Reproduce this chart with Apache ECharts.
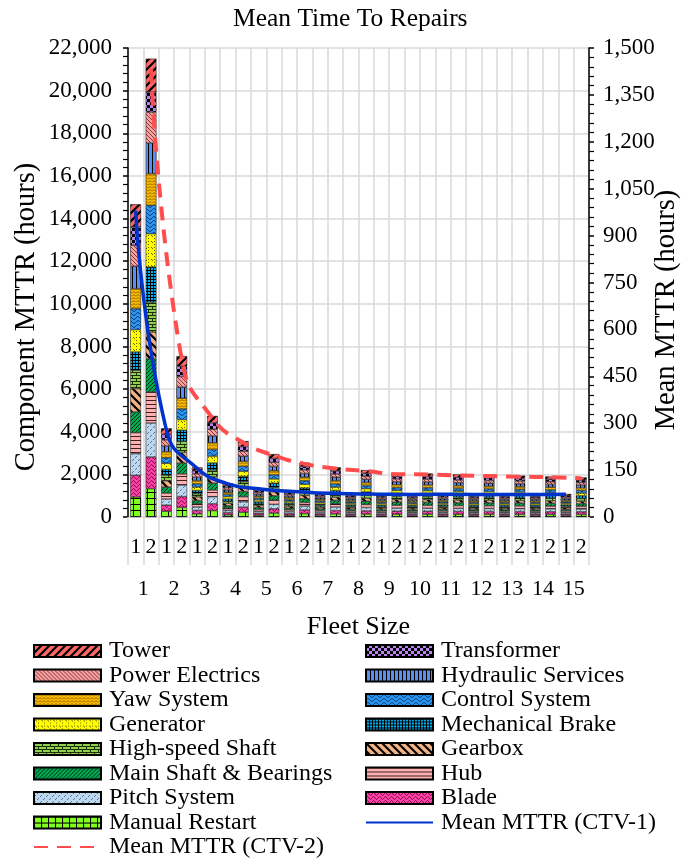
<!DOCTYPE html>
<html>
<head>
<meta charset="utf-8">
<script src="https://cdn.jsdelivr.net/npm/echarts@6/dist/echarts.min.js"></script>
<style>
html,body{margin:0;padding:0;background:#fff;}
#chart{width:691px;height:858px;}
</style>
</head>
<body>
<div id="chart"></div>
<script>
// ---------- DATA ----------
const fleetSizes = ['1','2','3','4','5','6','7','8','9','10','11','12','13','14','15'];
const ctvLabels = ['1','2'];
const leftTicks = { min: 0, max: 22000, interval: 2000 };
const rightTicks = { min: 0, max: 1500, interval: 150 };

// bar order per fleet size: [CTV-1, CTV-2]
const manualRestart = [938,1329,270,450,150,300,100,225,85,185,78,160,72,146,68,138,66,130,65,128,70,126,66,124,65,122,66,120,68,117];
const blade         = [1017,1485,285,510,160,320,110,240,92,200,85,172,78,158,74,150,72,140,71,139,73,136,70,134,71,132,71,129,74,127];
const pitchSystem   = [1017,1595,290,540,160,330,110,250,92,210,85,180,78,165,74,156,72,146,71,145,74,142,71,140,70,138,71,135,74,132];
const hub           = [985,1454,275,520,155,315,105,235,88,195,82,168,76,153,72,145,70,136,69,135,71,132,69,130,69,128,68,126,72,123];
const mainShaft     = [970,1564,280,510,150,325,100,245,86,205,80,176,74,160,70,152,68,142,67,141,72,138,68,136,68,134,68,131,70,128];
const gearbox       = [1094,1251,300,500,165,300,115,225,98,185,88,160,82,146,78,138,76,130,75,129,76,126,74,124,75,122,75,120,78,117];
const highSpeed     = [860,1407,265,520,150,315,100,235,84,195,76,168,70,153,66,145,64,136,64,135,67,132,64,130,64,128,64,126,66,123];
const mechBrake     = [860,1642,270,520,155,330,105,250,88,210,80,180,74,165,70,156,68,146,67,145,70,142,67,140,67,138,67,135,70,132];
const generator     = [1048,1564,285,500,160,320,110,240,92,200,85,172,78,158,74,150,72,140,71,139,73,136,71,134,71,132,71,129,74,127];
const controlSystem = [985,1329,260,500,150,310,100,230,86,190,80,165,74,150,70,142,68,133,68,132,71,129,68,127,68,125,68,123,70,120];
const yawSystem     = [938,1485,280,500,155,315,105,235,88,195,82,168,76,153,72,145,70,136,69,135,72,132,69,130,69,128,69,126,72,123];
const hydraulic     = [1048,1438,275,520,160,320,110,240,92,200,85,172,78,158,74,150,72,140,71,139,73,136,71,134,71,132,71,129,74,127];
const powerElec     = [985,1454,285,500,155,315,105,235,88,195,82,168,76,153,72,145,70,136,69,135,72,132,69,130,69,128,69,126,72,123];
const transformer   = [860,938,260,480,145,300,95,220,82,180,75,156,70,142,66,134,64,126,64,125,66,122,64,120,64,118,63,116,66,114];
const tower         = [1063,1564,280,480,160,325,110,255,104,205,92,185,84,170,80,154,78,143,79,138,80,139,79,137,79,135,79,129,80,127];

const meanCTV1 = [980,278,156,106,90,82,77,74,73,72,73,72,72,72,73];
const meanCTV2 = [1433,503,316,238,197,170,155,147,137,136,133,131,129,127,124];

// ---------- PATTERNS ----------
function pat(w, h, bg, draw) {
  const c = document.createElement('canvas');
  c.width = w; c.height = h;
  const g = c.getContext('2d');
  g.fillStyle = bg; g.fillRect(0, 0, w, h);
  g.fillStyle = '#000'; g.strokeStyle = '#000';
  draw(g, w, h);
  return { image: c, repeat: 'repeat' };
}
function slash(g, w, lw, col) { // '/'
  g.strokeStyle = col; g.lineWidth = lw; g.beginPath();
  g.moveTo(0, w); g.lineTo(w, 0);
  g.moveTo(-w/2, w/2); g.lineTo(w/2, -w/2);
  g.moveTo(w/2, w*1.5); g.lineTo(w*1.5, w/2);
  g.stroke();
}
function backslash(g, w, lw, col) { // '\'
  g.strokeStyle = col; g.lineWidth = lw; g.beginPath();
  g.moveTo(0, 0); g.lineTo(w, w);
  g.moveTo(w/2, -w/2); g.lineTo(w*1.5, w/2);
  g.moveTo(-w/2, w/2); g.lineTo(w/2, w*1.5);
  g.stroke();
}
const patterns = {
  'Tower': pat(8, 8, '#ff6666', (g, w) => slash(g, w, 2.2, '#000')),
  'Transformer': pat(6, 6, '#b884ea', (g) => { g.fillRect(0,0,3,3); g.fillRect(3,3,3,3); }),
  'Power Electrics': pat(4, 4, '#f6a2a2', (g, w) => backslash(g, w, 0.9, '#7a2a2a')),
  'Hydraulic Services': pat(4, 1, '#5b8ef0', (g) => { g.fillRect(0,0,1,1); }),
  'Yaw System': pat(4, 3, '#ffc000', (g) => { g.strokeStyle='#6b4000'; g.lineWidth=0.8; g.beginPath(); g.moveTo(0,2.5); g.lineTo(2,0.5); g.lineTo(4,2.5); g.stroke(); }),
  'Control System': pat(8, 4, '#2a96f0', (g) => { g.strokeStyle='#002a60'; g.lineWidth=1; g.beginPath(); g.moveTo(0,2); g.bezierCurveTo(2,0,2,0,4,2); g.bezierCurveTo(6,4,6,4,8,2); g.stroke(); }),
  'Generator': pat(6, 6, '#ffff00', (g) => { g.fillStyle='#6b6000'; g.fillRect(1,1,1,1); g.fillRect(2,2,1,1); g.fillRect(4,4,1,1); g.fillRect(4,1,1,1); }),
  'Mechanical Brake': pat(3, 3, '#00b0f0', (g) => { g.fillRect(0,0,3,1); g.fillRect(0,0,1,3); }),
  'High-speed Shaft': pat(8, 6, '#92d050', (g) => { g.fillStyle='#1a3000'; g.fillRect(0,0,8,1); g.fillRect(0,3,8,1); g.fillRect(0,0,1,3); g.fillRect(4,3,1,3); }),
  'Gearbox': pat(8, 8, '#f4b183', (g, w) => backslash(g, w, 2.2, '#000')),
  'Main Shaft & Bearings': pat(4, 4, '#00a850', (g, w) => slash(g, w, 1, '#003015')),
  'Hub': pat(1, 4, '#ffb0b0', (g) => { g.fillStyle='#402020'; g.fillRect(0,0,1,1); }),
  'Pitch System': pat(6, 6, '#bdd7ee', (g) => { g.strokeStyle='#4a6a90'; g.lineWidth=0.9; g.beginPath(); g.moveTo(0,5); g.lineTo(2,3); g.moveTo(3,2); g.lineTo(5,0); g.stroke(); }),
  'Blade': pat(6, 4, '#ff40a8', (g) => { g.strokeStyle='#5a0030'; g.lineWidth=0.9; g.beginPath(); g.moveTo(0,2); g.bezierCurveTo(1.5,0,1.5,0,3,2); g.bezierCurveTo(4.5,4,4.5,4,6,2); g.stroke(); }),
  'Manual Restart': pat(7, 6, '#80ff20', (g) => { g.fillRect(0,0,1,6); g.fillRect(0,0,7,1); })
};

const componentNames = ['Manual Restart','Blade','Pitch System','Hub','Main Shaft & Bearings','Gearbox','High-speed Shaft','Mechanical Brake','Generator','Control System','Yaw System','Hydraulic Services','Power Electrics','Transformer','Tower'];
const componentData = [manualRestart, blade, pitchSystem, hub, mainShaft, gearbox, highSpeed, mechBrake, generator, controlSystem, yawSystem, hydraulic, powerElec, transformer, tower];

const categories = [];
fleetSizes.forEach(f => ctvLabels.forEach(c => categories.push(f + '-' + c)));

const line1 = categories.map((k, i) => i % 2 === 0 ? meanCTV1[i / 2] : null);
const line2 = categories.map((k, i) => i % 2 === 1 ? meanCTV2[(i - 1) / 2] : null);

const FONT = '"Liberation Serif", "Times New Roman", serif';
const GRID = '#d9d9d9';

const series = componentNames.map((name, i) => ({
  name: name,
  type: 'bar',
  stack: 'total',
  barWidth: '70%',
  xAxisIndex: 0,
  yAxisIndex: 0,
  data: componentData[i],
  itemStyle: { color: patterns[name], borderColor: '#000', borderWidth: 0.5 },
  emphasis: { disabled: true }
}));
series.push({
  name: 'Mean MTTR (CTV-1)', type: 'line', xAxisIndex: 0, yAxisIndex: 1,
  data: line1, connectNulls: true, smooth: 0.5, symbol: 'none', z: 5,
  lineStyle: { color: '#0033cc', width: 3.5 }, itemStyle: { color: '#0033cc' }
});
series.push({
  name: 'Mean MTTR (CTV-2)', type: 'line', xAxisIndex: 0, yAxisIndex: 1,
  data: line2, connectNulls: true, smooth: 0.5, symbol: 'none', z: 5,
  lineStyle: { color: '#ff4d4d', width: 4, type: [14, 9] }, itemStyle: { color: '#ff4d4d' }
});

const legendText = { fontFamily: FONT, fontSize: 24, color: '#000', lineHeight: 24, padding: [0, 0, 0, 3] };
const leftLegend = ['Tower','Power Electrics','Yaw System','Generator','High-speed Shaft','Main Shaft & Bearings','Pitch System','Manual Restart'];
const rightLegend = ['Transformer','Hydraulic Services','Control System','Mechanical Brake','Gearbox','Hub','Blade'];
const hiddenSymbol = { color: 'rgba(0,0,0,0)', opacity: 0, borderWidth: 0 };
const legendBase = { orient: 'vertical', padding: 0, itemWidth: 67, itemHeight: 12, itemGap: 0.5, textStyle: legendText, selectedMode: false };

const option = {
  animation: false,
  backgroundColor: '#fff',
  title: {
    text: 'Mean Time To Repairs', left: 233, top: 6, padding: 0,
    textStyle: { fontFamily: FONT, fontSize: 25.5, fontWeight: 'normal', color: '#000' }
  },
  legend: [
    Object.assign({}, legendBase, { left: 33, top: 639, data: leftLegend.map(n => ({ name: n, icon: 'rect' })) }),
    Object.assign({}, legendBase, { left: 33, top: 835, data: [{ name: 'Mean MTTR (CTV-2)', itemStyle: hiddenSymbol }] }),
    Object.assign({}, legendBase, { left: 365, top: 639,
      data: rightLegend.map(n => ({ name: n, icon: 'rect' })).concat([{ name: 'Mean MTTR (CTV-1)', itemStyle: hiddenSymbol }]) })
  ],
  graphic: [
    { type: 'text', x: 27, y: 317, rotation: Math.PI / 2, silent: true,
      style: { text: 'Component MTTR (hours)', font: '28.5px ' + FONT, fill: '#000', align: 'center', verticalAlign: 'middle' } },
    { type: 'text', x: 667, y: 310, rotation: Math.PI / 2, silent: true,
      style: { text: 'Mean MTTR (hours)', font: '28.5px ' + FONT, fill: '#000', align: 'center', verticalAlign: 'middle' } }
  ],
  grid: { left: 128, right: 102, top: 48, bottom: 341, containLabel: false },
  xAxis: [
    {
      type: 'category', data: categories, position: 'bottom',
      axisLine: { show: true, lineStyle: { color: GRID, width: 1 } },
      axisTick: { show: true, interval: 0, length: 48, lineStyle: { color: GRID, width: 1.5 } },
      axisLabel: { interval: 0, margin: 19, fontFamily: FONT, fontSize: 22, color: '#000', formatter: v => v.split('-')[1] },
      splitLine: { show: true, interval: 0, lineStyle: { color: GRID, width: 1.5 } }
    },
    {
      type: 'category', data: fleetSizes, position: 'bottom', offset: 48,
      axisLine: { show: false },
      axisTick: { show: true, interval: 0, length: 42, lineStyle: { color: GRID, width: 1.5 } },
      axisLabel: { interval: 0, margin: 13, fontFamily: FONT, fontSize: 22, color: '#000' },
      splitLine: { show: false },
      name: 'Fleet Size', nameLocation: 'middle', nameGap: 49,
      nameTextStyle: { fontFamily: FONT, fontSize: 26, color: '#000' }
    }
  ],
  yAxis: [
    {
      type: 'value', position: 'left', min: leftTicks.min, max: leftTicks.max, interval: leftTicks.interval,
      axisLine: { show: true, lineStyle: { color: '#000', width: 1.5 } },
      axisTick: { show: true, length: 5, lineStyle: { color: '#000', width: 1.5 } },
      minorTick: { show: true, splitNumber: 5, length: 5, lineStyle: { color: '#000', width: 1.2 } },
      axisLabel: { margin: 16, fontFamily: FONT, fontSize: 23, color: '#000', formatter: v => v.toLocaleString('en-US') },
      splitLine: { show: true, lineStyle: { color: GRID, width: 1.5 } }
    },
    {
      type: 'value', position: 'right', min: rightTicks.min, max: rightTicks.max, interval: rightTicks.interval,
      axisLine: { show: true, lineStyle: { color: '#000', width: 1.5 } },
      axisTick: { show: true, length: 5, lineStyle: { color: '#000', width: 1.5 } },
      minorTick: { show: true, splitNumber: 5, length: 5, lineStyle: { color: '#000', width: 1.2 } },
      axisLabel: { margin: 14, fontFamily: FONT, fontSize: 23, color: '#000', formatter: v => v.toLocaleString('en-US') },
      splitLine: { show: false }
    }
  ],
  series: series
};

const chart = echarts.init(document.getElementById('chart'), null, { renderer: 'canvas' });
chart.setOption(option);
</script>
</body>
</html>
